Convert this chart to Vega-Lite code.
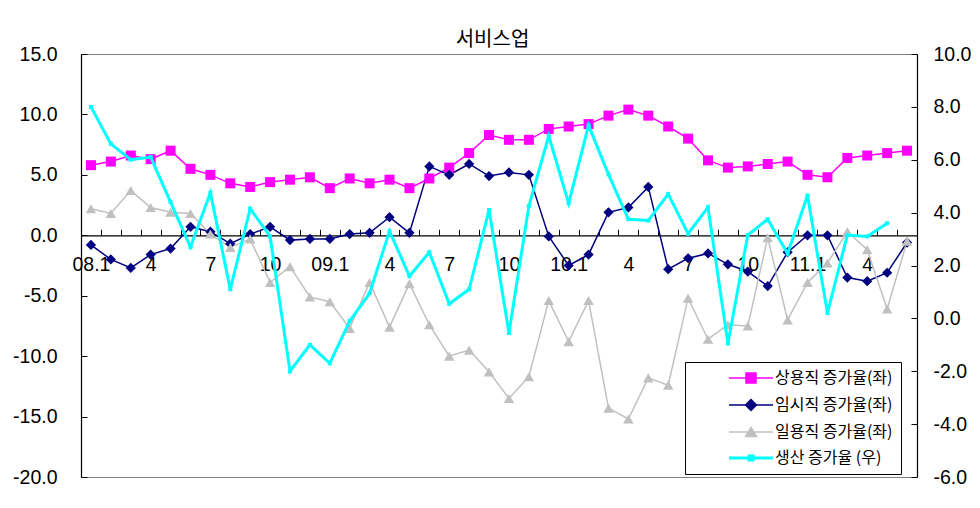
{
  "$schema": "https://vega.github.io/schema/vega-lite/v6.json",
  "width": 836,
  "height": 423,
  "autosize": {"type": "none"},
  "padding": {"left": 81, "top": 54, "right": 63, "bottom": 31},
  "background": "white",
  "config": {
    "view": {"stroke": "#808080", "strokeWidth": 1},
    "axis": {"grid": false, "labelFont": "Liberation Sans", "labelFontSize": 19.5, "labelColor": "#000", "domainColor": "#000", "tickColor": "#000", "domainWidth": 1.2, "tickWidth": 1}
  },
  "title": {"text": "서비스업", "font": "Noto Sans CJK KR", "fontSize": 20, "fontWeight": "normal", "color": "#000", "anchor": "middle", "frame": "group", "offset": -22, "baseline": "alphabetic", "dx": -6.5},
  "data": {"values": [
    {"m": "08.1", "reg": 5.8, "tmp": -0.8, "day": 2.2, "prod": 8.0},
    {"m": "08.2", "reg": 6.1, "tmp": -2.0, "day": 1.8, "prod": 6.6},
    {"m": "08.3", "reg": 6.6, "tmp": -2.7, "day": 3.7, "prod": 6.0},
    {"m": "08.4", "reg": 6.3, "tmp": -1.6, "day": 2.3, "prod": 6.1},
    {"m": "08.5", "reg": 7.0, "tmp": -1.1, "day": 1.9, "prod": 4.4},
    {"m": "08.6", "reg": 5.5, "tmp": 0.7, "day": 1.8, "prod": 2.7},
    {"m": "08.7", "reg": 5.0, "tmp": 0.3, "day": 0.1, "prod": 4.75},
    {"m": "08.8", "reg": 4.3, "tmp": -0.7, "day": -1.0, "prod": 1.1},
    {"m": "08.9", "reg": 4.0, "tmp": 0.1, "day": -0.3, "prod": 4.15},
    {"m": "08.10", "reg": 4.4, "tmp": 0.7, "day": -3.9, "prod": 3.1},
    {"m": "08.11", "reg": 4.6, "tmp": -0.4, "day": -2.6, "prod": -2.0},
    {"m": "08.12", "reg": 4.8, "tmp": -0.3, "day": -5.1, "prod": -1.0},
    {"m": "09.1", "reg": 3.9, "tmp": -0.3, "day": -5.5, "prod": -1.7},
    {"m": "09.2", "reg": 4.7, "tmp": 0.1, "day": -7.7, "prod": -0.1},
    {"m": "09.3", "reg": 4.3, "tmp": 0.2, "day": -3.9, "prod": 0.95},
    {"m": "09.4", "reg": 4.6, "tmp": 1.5, "day": -7.6, "prod": 3.3},
    {"m": "09.5", "reg": 3.9, "tmp": 0.2, "day": -4.0, "prod": 1.6},
    {"m": "09.6", "reg": 4.7, "tmp": 5.7, "day": -7.4, "prod": 2.5},
    {"m": "09.7", "reg": 5.6, "tmp": 5.0, "day": -10.0, "prod": 0.55},
    {"m": "09.8", "reg": 6.8, "tmp": 5.9, "day": -9.5, "prod": 1.1},
    {"m": "09.9", "reg": 8.3, "tmp": 4.9, "day": -11.3, "prod": 4.1},
    {"m": "09.10", "reg": 7.9, "tmp": 5.2, "day": -13.5, "prod": -0.55},
    {"m": "09.11", "reg": 7.9, "tmp": 5.0, "day": -11.7, "prod": 4.25},
    {"m": "09.12", "reg": 8.8, "tmp": -0.1, "day": -5.4, "prod": 6.9},
    {"m": "10.1", "reg": 9.0, "tmp": -2.5, "day": -8.8, "prod": 4.35},
    {"m": "10.2", "reg": 9.2, "tmp": -1.6, "day": -5.4, "prod": 7.3},
    {"m": "10.3", "reg": 9.9, "tmp": 1.9, "day": -14.3, "prod": 5.45},
    {"m": "10.4", "reg": 10.4, "tmp": 2.3, "day": -15.2, "prod": 3.75},
    {"m": "10.5", "reg": 9.9, "tmp": 4.0, "day": -11.8, "prod": 3.7},
    {"m": "10.6", "reg": 9.0, "tmp": -2.8, "day": -12.4, "prod": 4.7},
    {"m": "10.7", "reg": 8.0, "tmp": -1.9, "day": -5.2, "prod": 3.2},
    {"m": "10.8", "reg": 6.2, "tmp": -1.5, "day": -8.6, "prod": 4.2},
    {"m": "10.9", "reg": 5.6, "tmp": -2.4, "day": -7.4, "prod": -0.95},
    {"m": "10.10", "reg": 5.7, "tmp": -3.0, "day": -7.5, "prod": 3.15},
    {"m": "10.11", "reg": 5.9, "tmp": -4.2, "day": -0.2, "prod": 3.75},
    {"m": "10.12", "reg": 6.1, "tmp": -1.4, "day": -7.0, "prod": 2.45},
    {"m": "11.1", "reg": 5.0, "tmp": 0.0, "day": -3.9, "prod": 4.65},
    {"m": "11.2", "reg": 4.8, "tmp": 0.0, "day": -2.3, "prod": 0.2},
    {"m": "11.3", "reg": 6.4, "tmp": -3.5, "day": 0.3, "prod": 3.15},
    {"m": "11.4", "reg": 6.6, "tmp": -3.8, "day": -1.2, "prod": 3.1},
    {"m": "11.5", "reg": 6.8, "tmp": -3.1, "day": -6.1, "prod": 3.6},
    {"m": "11.6", "reg": 7.0, "tmp": -0.6, "day": -0.5, "prod": null}
  ]},
  "encoding": {
    "x": {
      "field": "m", "type": "ordinal", "sort": null, "bandPosition": 0.5,
      "scale": {"type": "band", "paddingInner": 0, "paddingOuter": 0},
      "axis": {
        "title": null, "orient": "bottom", "offset": -241.7, "tickBand": "extent", "tickSize": -6,
        "labelPadding": 26, "labelAngle": 0, "labelOverlap": false, "labelBaseline": "top",
        "labelExpr": "split(datum.label,'.')[1] == '1' ? datum.label : (toNumber(split(datum.label,'.')[1]) % 3 == 1 ? split(datum.label,'.')[1] : '')"
      }
    }
  },
  "layer": [
    {
      "transform": [{"fold": ["reg", "tmp", "day"], "as": ["series", "v"]}],
      "encoding": {
        "y": {
          "field": "v", "type": "quantitative",
          "scale": {"domain": [-20, 15], "nice": false, "zero": false},
          "axis": {"title": null, "orient": "left", "values": [-20, -15, -10, -5, 0, 5, 10, 15], "tickSize": -6, "labelPadding": 30,
            "labelExpr": "replace(format(datum.value, '.1f'), '\u2212', '-')"}
        }
      },
      "layer": [
        {
          "mark": {"type": "line", "strokeWidth": 1.5},
          "encoding": {
            "color": {
              "field": "series", "type": "nominal",
              "scale": {"domain": ["reg", "tmp", "day", "prod"], "range": ["#FF00FF", "#000080", "#C0C0C0", "#00FFFF"]},
              "legend": {
                "orient": "none", "legendX": 604, "legendY": 308, "title": null,
                "symbolSize": 100, "labelFont": "Noto Sans CJK KR", "labelFontSize": 16, "labelColor": "#000",
                "fillColor": "#ffffff", "strokeColor": "#000000", "padding": 8, "rowPadding": 10, "labelOffset": 66,
                "labelExpr": "datum.label == 'reg' ? '상용직 증가율(좌)\u00a0\u00a0\u00a0\u00a0' : datum.label == 'tmp' ? '임시직 증가율(좌)\u00a0\u00a0\u00a0\u00a0' : datum.label == 'day' ? '일용직 증가율(좌)\u00a0\u00a0\u00a0\u00a0' : '생산 증가율 (우)'",
                "encode": {
                  "symbols": {
                    "update": {
                      "shape": {"signal": "datum.value == 'reg' ? 'M5.6,0H14.4M9,-1H11V1H9Z' : datum.value == 'tmp' ? 'M5.6,0H14.4M10,-1.1L11.1,0L10,1.1L8.9,0Z' : datum.value == 'day' ? 'M5.6,0H14.4M10,-0.9L11.1,0.9L8.9,0.9Z' : 'M5.6,0H14.4M9.6,-0.4H10.4V0.4H9.6Z'"},
                      "fill": {"scale": "color", "field": "value"},
                      "stroke": {"scale": "color", "field": "value"},
                      "strokeWidth": {"signal": "datum.value == 'prod' ? 3 : 1.5"},
                      "opacity": {"value": 1},
                      "fillOpacity": {"value": 1},
                      "strokeOpacity": {"value": 1}
                    }
                  }
                }
              }
            }
          }
        },
        {
          "mark": {"type": "point", "filled": true, "opacity": 1},
          "encoding": {
            "color": {"field": "series", "type": "nominal"},
            "shape": {"field": "series", "type": "nominal", "scale": {"domain": ["reg", "tmp", "day"], "range": ["square", "diamond", "triangle-up"]}, "legend": null},
            "size": {"field": "series", "type": "nominal", "scale": {"domain": ["reg", "tmp", "day"], "range": [100, 110, 130]}, "legend": null}
          }
        }
      ]
    },
    {
      "encoding": {
        "y": {
          "field": "prod", "type": "quantitative",
          "scale": {"domain": [-6, 10], "nice": false, "zero": false},
          "axis": {"title": null, "orient": "right", "values": [-6, -4, -2, 0, 2, 4, 6, 8, 10], "tickSize": -6, "labelPadding": 22, "labelAlign": "left",
            "labelExpr": "replace(format(datum.value, '.1f'), '\u2212', '-')"}
        }
      },
      "layer": [
        {"mark": {"type": "line", "strokeWidth": 3}, "encoding": {"color": {"datum": "prod"}}},
        {"mark": {"type": "point", "filled": true, "opacity": 1, "shape": "square", "size": 16}, "encoding": {"color": {"datum": "prod"}}}
      ]
    }
  ],
  "resolve": {"scale": {"y": "independent"}}
}
